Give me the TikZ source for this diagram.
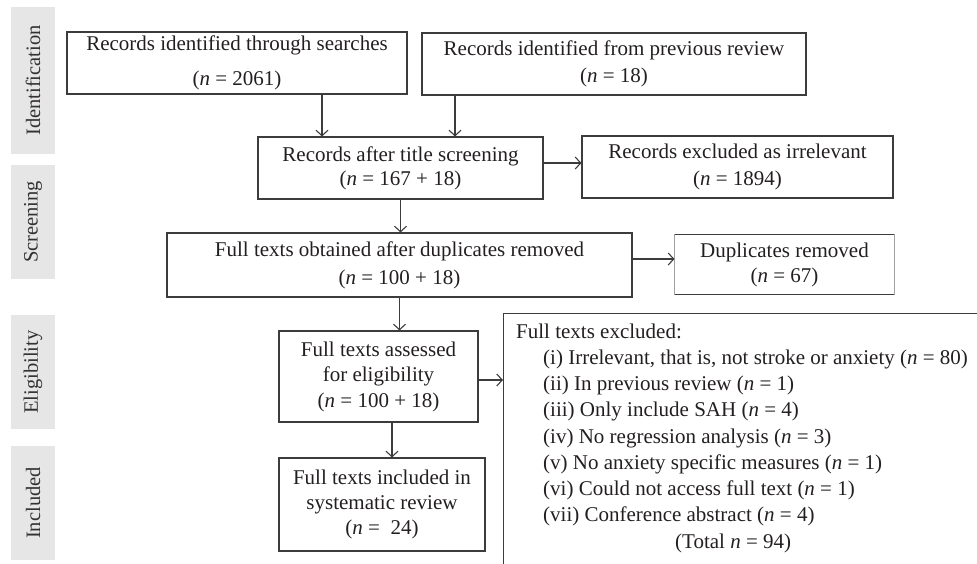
\documentclass[tikz,border=0pt]{standalone}
\usepackage{fontspec}
\setmainfont{Liberation Serif}
\usetikzlibrary{arrows.meta}
\definecolor{txt}{HTML}{231F20}
\definecolor{ln}{HTML}{3C3C3C}
\definecolor{sidefill}{HTML}{E6E6E6}
\definecolor{lite}{HTML}{A0A0A0}
\begin{document}
\begin{tikzpicture}[x=1pt,y=-1pt,
  box/.style={draw=ln, line width=1.1pt, inner sep=0pt, align=center, text=txt},
  sidebox/.style={fill=sidefill, rotate=90, inner sep=0pt, minimum height=44pt, text=txt!92, font=\fontsize{20.5}{24}\selectfont},
  arr/.style={draw=ln, line width=1.1pt, -{Straight Barb[length=5.5pt,width=12pt]}},
  ltxt/.style={anchor=base west, inner sep=0pt, text=txt, font=\fontsize{21}{26}\selectfont}]
\useasboundingbox (0,0) rectangle (977,563);
\clip (0,0) rectangle (977,563);

% stage labels
\node[sidebox, minimum width=147pt] (sI) at (33,80.5) {Identification};
\node[sidebox, minimum width=114pt] (sS) at (33,222) {Screening};
\node[sidebox, minimum width=114pt] (sE) at (33,372) {Eligibility};
\node[sidebox, minimum width=114pt] (sN) at (33,503) {Included};

% boxes
\node[box, minimum width=340pt, minimum height=62pt, font=\fontsize{21}{35}\selectfont] (b1) at (237,63)
  {Records identified through searches\\(\textit{n} = 2061)};
\node[box, minimum width=384pt, minimum height=62pt, font=\fontsize{21}{27}\selectfont] (b2) at (614,64)
  {Records identified from previous review\\(\textit{n} = 18)};
\node[box, minimum width=285pt, minimum height=62pt, font=\fontsize{21}{24}\selectfont] (b3) at (400.5,168)
  {Records after title screening\\(\textit{n} = 167 + 18)};
\node[box, minimum width=311pt, minimum height=62pt, font=\fontsize{21}{27}\selectfont] (b4) at (737.5,167)
  {Records excluded as irrelevant\\(\textit{n} = 1894)};
\node[box, minimum width=465pt, minimum height=64pt, font=\fontsize{21}{28}\selectfont] (b5) at (399.5,265)
  {Full texts obtained after duplicates removed\\(\textit{n} = 100 + 18)};
\node[box, draw=none, minimum width=219pt, minimum height=59pt, font=\fontsize{21}{25}\selectfont] (b6) at (784.5,264.5)
  {Duplicates removed\\(\textit{n} = 67)};
\node[box, minimum width=199pt, minimum height=91pt, font=\fontsize{21}{25.5}\selectfont] (b7) at (378.5,376.5)
  {Full texts assessed\\for eligibility\\(\textit{n} = 100 + 18)};
\node[box, minimum width=206pt, minimum height=93pt, font=\fontsize{21}{25}\selectfont] (b8) at (382,504.5)
  {Full texts included in\\systematic review\\(\textit{n} = \ 24)};
\node[draw=ln, line width=1.1pt, anchor=north west, minimum width=520pt, minimum height=300pt, inner sep=0pt] (b9) at (503,313) {};

% duplicates box frame
\draw[ln, line width=1.1pt] (b6.north west) -- (b6.north east);
\draw[ln, line width=1.1pt] (b6.south west) -- (b6.south east);
\draw[lite, line width=0.8pt] (b6.north west) -- (b6.south west);
\draw[lite, line width=0.8pt] (b6.north east) -- (b6.south east);

% exclusion list
\node[ltxt] (e0) at (516,338) {Full texts excluded:};
\node[ltxt] (e1) at (543,364.25) {(i) Irrelevant, that is, not stroke or anxiety (\textit{n} = 80)};
\node[ltxt] (e2) at (543,390.5) {(ii) In previous review (\textit{n} = 1)};
\node[ltxt] (e3) at (543,416.75) {(iii) Only include SAH (\textit{n} = 4)};
\node[ltxt] (e4) at (543,443) {(iv) No regression analysis (\textit{n} = 3)};
\node[ltxt] (e5) at (543,469.25) {(v) No anxiety specific measures (\textit{n} = 1)};
\node[ltxt] (e6) at (543,495.5) {(vi) Could not access full text (\textit{n} = 1)};
\node[ltxt] (e7) at (543,521.75) {(vii) Conference abstract (\textit{n} = 4)};
\node[ltxt] (e8) at (675,548) {(Total \textit{n} = 94)};

% connectors
\coordinate (x1) at (322,0);
\coordinate (x2) at (455,0);
\coordinate (x78) at (392,0);
\coordinate (y34) at (0,163);
\coordinate (y56) at (0,259);
\coordinate (y79) at (0,380);
\draw[arr] (b1.south -| x1) -- (b3.north -| x1);
\draw[arr] (b2.south -| x2) -- (b3.north -| x2);
\draw[arr] (b3.east |- y34) -- (b4.west |- y34);
\draw[arr] (b3.south) -- (b3.south |- b5.north);
\draw[arr] (b5.east |- y56) -- (b6.west |- y56);
\draw[arr] (b5.south) -- (b5.south |- b7.north);
\draw[arr] (b7.east |- y79) -- (b9.west |- y79);
\draw[arr] (b7.south -| x78) -- (b8.north -| x78);
\end{tikzpicture}
\end{document}
